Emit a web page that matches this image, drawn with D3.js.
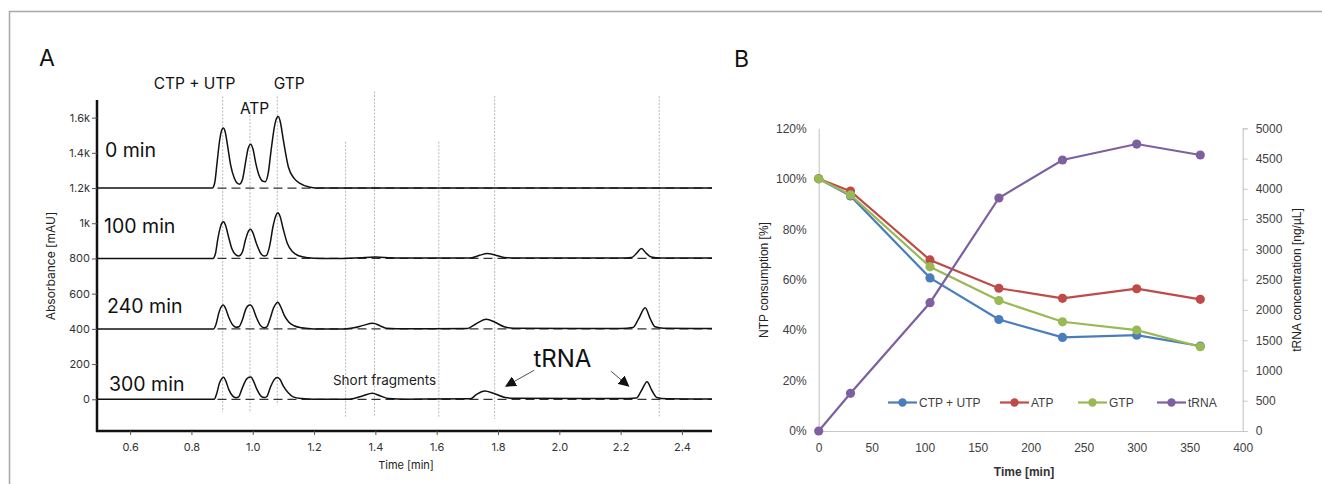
<!DOCTYPE html>
<html>
<head>
<meta charset="utf-8">
<script src="https://cdn.jsdelivr.net/npm/d3@7"></script>
<style>
  body { margin: 0; background: #fff; }
  svg { display: block; }
  .axA text { font-family: Inter, "Open Sans", sans-serif; font-size: 11px; fill: #333; }
  .axB text { font-family: "Liberation Sans", Arial, sans-serif; font-size: 12px; fill: #404040; }
</style>
</head>
<body>
<svg id="chart" width="1322" height="484"></svg>
<script>
/*    ========    DATA    =========    */

// Panel A: chromatograms, [time (min), absorbance above its baseline (mAU)]
var runNames = ["0 min", "100 min", "240 min", "300 min"];
var runBaselines = [1200, 800, 400, 0];

var trace0 = [[0.492,0],[0.868,0],[0.876,30],[0.884,150],[0.892,270],[0.899,330],[0.904,341],[0.910,320],[0.918,240],[0.928,130],[0.940,55],[0.950,26],[0.957,22],[0.966,45],[0.976,140],[0.985,225],[0.9935,249],[1.001,220],[1.010,140],[1.022,65],[1.033,38],[1.041,36],[1.050,80],[1.061,230],[1.072,360],[1.079,400],[1.0835,406],[1.090,375],[1.100,270],[1.116,121],[1.135,55],[1.154,27],[1.187,5],[1.22,0],[2.498,0]];

var trace100 = [[0.492,0],[0.870,0],[0.878,25],[0.886,110],[0.894,175],[0.900,203],[0.905,209],[0.911,190],[0.920,130],[0.932,55],[0.945,20],[0.955,14],[0.966,35],[0.977,110],[0.987,158],[0.993,166],[1.000,148],[1.012,85],[1.025,32],[1.037,14],[1.045,18],[1.055,70],[1.066,180],[1.076,245],[1.082,260],[1.089,240],[1.099,170],[1.113,85],[1.130,38],[1.150,15],[1.18,4],[1.22,0],[1.30,0],[1.35,4],[1.40,8],[1.45,4],[1.50,2],[1.71,3],[1.74,18],[1.765,28],[1.79,20],[1.82,6],[1.86,3],[2.20,2],[2.236,5],[2.252,30],[2.268,57],[2.283,30],[2.30,8],[2.33,3],[2.498,2]];

var trace240 = [[0.492,0],[0.872,0],[0.880,25],[0.890,95],[0.898,128],[0.904,136],[0.911,118],[0.922,65],[0.935,22],[0.946,9],[0.955,12],[0.966,50],[0.978,115],[0.987,134],[0.993,136],[1.000,120],[1.012,65],[1.025,20],[1.037,7],[1.045,10],[1.056,55],[1.068,120],[1.077,146],[1.082,151],[1.090,130],[1.102,80],[1.118,38],[1.135,18],[1.16,6],[1.20,0],[1.30,0],[1.33,6],[1.36,20],[1.392,32],[1.415,18],[1.435,4],[1.50,1],[1.70,2],[1.725,25],[1.762,55],[1.79,38],[1.82,12],[1.85,4],[2.20,2],[2.24,8],[2.258,55],[2.28,120],[2.296,60],[2.312,12],[2.34,4],[2.498,2]];

var trace300 = [[0.492,0],[0.874,0],[0.882,30],[0.892,95],[0.900,120],[0.905,125],[0.912,105],[0.922,55],[0.935,18],[0.945,9],[0.954,14],[0.966,65],[0.980,115],[0.988,125],[0.994,126],[1.002,105],[1.014,55],[1.027,18],[1.038,10],[1.046,16],[1.058,70],[1.070,112],[1.080,124],[1.088,115],[1.100,75],[1.115,38],[1.132,14],[1.16,4],[1.20,0],[1.30,0],[1.33,5],[1.36,20],[1.39,34],[1.415,20],[1.444,4],[1.50,1],[1.71,3],[1.73,28],[1.757,47],[1.785,34],[1.82,12],[1.85,6],[2.20,4],[2.252,8],[2.268,50],[2.286,100],[2.302,50],[2.318,10],[2.35,3],[2.498,2]];

var traces = [trace0, trace100, trace240, trace300];

// grey guide lines: time, top and bottom (mAU)
var guideTimes = [0.902, 0.991, 1.080, 1.303, 1.397, 1.607, 1.789, 2.326];
var guideTops = [1720, 1634, 1720, 1463, 1748, 1463, 1723, 1723];
var guideBottoms = [-74, -78, -32, -99, -99, -105, -112, -99];

var xTicksA = [0.6, 0.8, 1.0, 1.2, 1.4, 1.6, 1.8, 2.0, 2.2, 2.4];
var yTicksA = [0, 200, 400, 600, 800, 1000, 1200, 1400, 1600];
var yTickLabelsA = ["0", "200", "400", "600", "800", "1k", "1.2k", "1.4k", "1.6k"];

// Panel B: NTP consumption and tRNA yield
var timesB = [0, 30, 105, 170, 230, 300, 360];
var ctpUtp = [1.00, 0.932, 0.607, 0.442, 0.371, 0.380, 0.337];
var atp = [1.00, 0.951, 0.678, 0.566, 0.526, 0.564, 0.522];
var gtp = [1.00, 0.936, 0.651, 0.517, 0.433, 0.400, 0.334];
var trna = [0, 623, 2119, 3849, 4476, 4740, 4559];

var seriesNames = ["CTP + UTP", "ATP", "GTP", "tRNA"];
var seriesColors = ["#4a7ebb", "#be4b48", "#98b954", "#7d60a0"];

var xTicksB = [0, 50, 100, 150, 200, 250, 300, 350, 400];
var yTicksB = [0, 0.2, 0.4, 0.6, 0.8, 1.0, 1.2];
var yTicksR = [0, 500, 1000, 1500, 2000, 2500, 3000, 3500, 4000, 4500, 5000];

/*    ========    SETUP    =========    */

var svg = d3.select('#chart');

// frame around the figure
svg.append("path")
    .attr("d", "M9.5,484 V11.5 H1322")
    .attr("fill", "none")
    .attr("stroke", "#a8a8a8")
    .attr("stroke-width", 1.5);

svg.append("text").text("A")
    .attr("x", 39).attr("y", 66)
    .style("font-family", "Inter, sans-serif").style("font-size", "23px").style("fill", "#111");
svg.append("text").text("B")
    .attr("x", 734).attr("y", 67)
    .style("font-family", "Inter, sans-serif").style("font-size", "23px").style("fill", "#111");

/*    ========    PANEL A    =========    */

var xA = d3.scaleLinear().domain([0.492, 2.498]).range([97, 712]);
var yA = d3.scaleLinear().domain([-180, 1700]).range([431, 100]);

var gA = svg.append("g");

// guide lines
gA.selectAll("line.guide")
    .data(guideTimes).enter()
    .append("line")
    .attr("class", "guide")
    .attr("x1", function(d) { return xA(d); })
    .attr("x2", function(d) { return xA(d); })
    .attr("y1", function(d, i) { return yA(guideTops[i]); })
    .attr("y2", function(d, i) { return yA(guideBottoms[i]); })
    .attr("stroke", "#b8b8b8")
    .attr("stroke-width", 1)
    .attr("stroke-dasharray", "2,1.5");

// dashed baselines
gA.selectAll("line.base")
    .data(runBaselines).enter()
    .append("line")
    .attr("class", "base")
    .attr("x1", xA(0.885))
    .attr("x2", xA(2.498))
    .attr("y1", function(d) { return yA(d); })
    .attr("y2", function(d) { return yA(d); })
    .attr("stroke", "#333")
    .attr("stroke-width", 1.3)
    .attr("stroke-dasharray", "9,5");

// chromatogram traces
var lineA = d3.line().curve(d3.curveMonotoneX);
traces.forEach(function(tr, k) {
    lineA.x(function(d) { return xA(d[0]); })
         .y(function(d) { return yA(d[1] + runBaselines[k]); });
    gA.append("path")
        .datum(tr)
        .attr("d", lineA)
        .attr("fill", "none")
        .attr("stroke", "#111")
        .attr("stroke-width", 1.5);
});

// axes
var xAxisA = d3.axisBottom(xA).tickValues(xTicksA).tickSize(4).tickPadding(8)
    .tickFormat(d3.format(".1f"));
var yAxisA = d3.axisLeft(yA).tickValues(yTicksA).tickSize(5).tickPadding(2)
    .tickFormat(function(d, i) { return yTickLabelsA[i]; });

var gxA = gA.append("g").attr("class", "axA")
    .attr("transform", "translate(0,431)")
    .call(xAxisA);
var gyA = gA.append("g").attr("class", "axA")
    .attr("transform", "translate(97,0)")
    .call(yAxisA);
[gxA, gyA].forEach(function(g) {
    g.select(".domain").attr("stroke", "#111").attr("stroke-width", 2.5);
    g.selectAll(".tick line").attr("stroke", "#555");
});
gxA.select(".domain").attr("d", "M96,0H712");
gyA.select(".domain").attr("d", "M0,100V432");

gA.append("text").text("Absorbance [mAU]")
    .attr("transform", "translate(55,266) rotate(-90)")
    .attr("text-anchor", "middle")
    .style("font-family", "Inter, sans-serif").style("font-size", "12px").style("fill", "#222");
gA.append("text").text("Time [min]")
    .attr("x", 406).attr("y", 469)
    .attr("text-anchor", "middle")
    .style("font-family", "Inter, sans-serif").style("font-size", "11px").style("fill", "#222");

// run labels
var runLabelY = [1375, 947, 490, 49];
var runLabelT = [0.518, 0.515, 0.525, 0.531];
gA.selectAll("text.run")
    .data(runNames).enter()
    .append("text")
    .attr("class", "run")
    .attr("x", function(d, i) { return xA(runLabelT[i]); })
    .attr("y", function(d, i) { return yA(runLabelY[i]); })
    .text(function(d) { return d; })
    .style("font-family", "Inter, sans-serif").style("font-size", "19.5px").style("fill", "#111");

// peak labels
var peakLabels = ["CTP + UTP", "ATP", "GTP"];
var peakLabelT = [0.81, 1.006, 1.119];
var peakLabelV = [1760, 1623, 1760];
gA.selectAll("text.peak")
    .data(peakLabels).enter()
    .append("text")
    .attr("class", "peak")
    .attr("x", function(d, i) { return xA(peakLabelT[i]); })
    .attr("y", function(d, i) { return yA(peakLabelV[i]); })
    .attr("text-anchor", "middle")
    .text(function(d) { return d; })
    .style("font-family", "Inter, sans-serif").style("font-size", "15.5px").style("fill", "#111");

gA.append("text").text("Short fragments")
    .attr("x", xA(1.43)).attr("y", yA(82))
    .attr("text-anchor", "middle")
    .style("font-family", "Inter, sans-serif").style("font-size", "13.5px").style("fill", "#222");
gA.append("text").text("tRNA")
    .attr("x", xA(2.01)).attr("y", yA(186))
    .attr("text-anchor", "middle")
    .style("font-family", "Inter, sans-serif").style("font-size", "24px").style("fill", "#111");

// arrows
var defs = svg.append("defs");
defs.append("marker")
    .attr("id", "tri")
    .attr("viewBox", "0 0 10 10")
    .attr("refX", 9).attr("refY", 5)
    .attr("markerWidth", 11).attr("markerHeight", 11)
    .attr("markerUnits", "userSpaceOnUse")
    .attr("orient", "auto")
    .append("path").attr("d", "M0,0 L10,5 L0,10 z").attr("fill", "#111");

var arrowFrom = [[1.918, 165], [2.168, 160]];
var arrowTo = [[1.826, 75], [2.226, 75]];
gA.selectAll("line.arrow")
    .data(arrowFrom).enter()
    .append("line")
    .attr("x1", function(d) { return xA(d[0]); })
    .attr("y1", function(d) { return yA(d[1]); })
    .attr("x2", function(d, i) { return xA(arrowTo[i][0]); })
    .attr("y2", function(d, i) { return yA(arrowTo[i][1]); })
    .attr("stroke", "#222")
    .attr("stroke-width", 0.8)
    .attr("marker-end", "url(#tri)");

/*    ========    PANEL B    =========    */

var xB = d3.scaleLinear().domain([0, 400]).range([818.7, 1242.7]);
var yB = d3.scaleLinear().domain([0, 1.2]).range([431, 128.3]);
var yR = d3.scaleLinear().domain([0, 5000]).range([431, 128.3]);

var gB = svg.append("g");

var gxB = gB.append("g").attr("class", "axB")
    .attr("transform", "translate(0,431)")
    .call(d3.axisBottom(xB).tickValues(xTicksB).tickSize(0).tickPadding(12));
var gyB = gB.append("g").attr("class", "axB")
    .attr("transform", "translate(818.7,0)")
    .call(d3.axisLeft(yB).tickValues(yTicksB).tickSize(0).tickPadding(12)
        .tickFormat(d3.format(".0%")));
var gyR = gB.append("g").attr("class", "axB")
    .attr("transform", "translate(1242.7,0)")
    .call(d3.axisRight(yR).tickValues(yTicksR).tickSize(5).tickPadding(8)
        .tickFormat(d3.format("d")));
[gxB, gyB, gyR].forEach(function(g) {
    g.select(".domain").attr("stroke", "#c8c8c8").attr("stroke-width", 1.2);
    g.selectAll(".tick line").attr("stroke", "#c8c8c8");
});

gB.append("text").text("NTP consumption [%]")
    .attr("transform", "translate(768,280) rotate(-90)")
    .attr("text-anchor", "middle")
    .style("font-family", "\"Liberation Sans\", Arial, sans-serif").style("font-size", "12px").style("fill", "#222");
gB.append("text").text("tRNA concentration [ng/µL]")
    .attr("transform", "translate(1301,280) rotate(-90)")
    .attr("text-anchor", "middle")
    .style("font-family", "\"Liberation Sans\", Arial, sans-serif").style("font-size", "12px").style("fill", "#222");
gB.append("text").text("Time [min]")
    .attr("x", 1024).attr("y", 476)
    .attr("text-anchor", "middle")
    .style("font-family", "\"Liberation Sans\", Arial, sans-serif").style("font-size", "12px")
    .style("font-weight", "bold").style("fill", "#333");

var seriesData = [ctpUtp, atp, gtp, trna];
var seriesScales = [yB, yB, yB, yR];

seriesData.forEach(function(vals, k) {
    var ys = seriesScales[k];
    var pts = timesB.map(function(t, i) { return [t, vals[i]]; });
    var line = d3.line()
        .x(function(d) { return xB(d[0]); })
        .y(function(d) { return ys(d[1]); });
    gB.append("path")
        .datum(pts)
        .attr("d", line)
        .attr("fill", "none")
        .attr("stroke", seriesColors[k])
        .attr("stroke-width", 2.2);
    gB.selectAll("circle.s" + k)
        .data(pts).enter()
        .append("circle")
        .attr("class", "s" + k)
        .attr("cx", function(d) { return xB(d[0]); })
        .attr("cy", function(d) { return ys(d[1]); })
        .attr("r", 4.6)
        .attr("fill", seriesColors[k]);
});

// legend
var legendX = [888, 1000, 1078, 1157];
var legend = gB.selectAll("g.leg")
    .data(seriesNames).enter()
    .append("g")
    .attr("class", "leg")
    .attr("transform", function(d, i) { return "translate(" + legendX[i] + ",402.5)"; });
legend.append("line")
    .attr("x1", 0).attr("x2", 29)
    .attr("stroke", function(d, i) { return seriesColors[i]; })
    .attr("stroke-width", 2.2);
legend.append("circle")
    .attr("cx", 14.5).attr("r", 4.2)
    .attr("fill", function(d, i) { return seriesColors[i]; });
legend.append("text")
    .attr("x", 31).attr("dy", "0.35em")
    .text(function(d) { return d; })
    .style("font-family", "\"Liberation Sans\", Arial, sans-serif").style("font-size", "12px").style("fill", "#404040");
</script>
</body>
</html>
